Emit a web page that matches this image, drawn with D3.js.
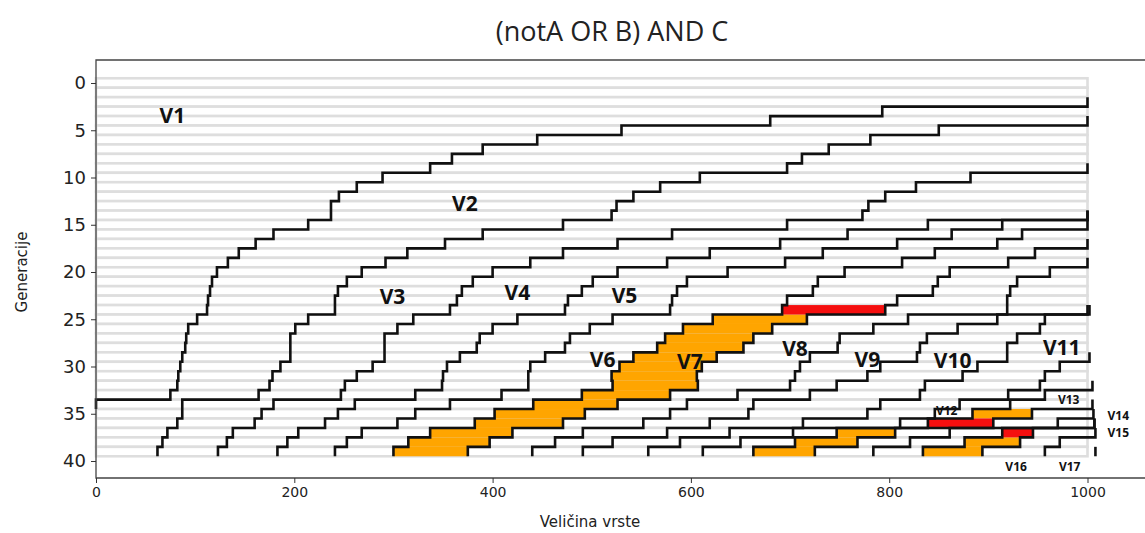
<!DOCTYPE html>
<html>
<head>
<meta charset="utf-8">
<script src="https://cdn.jsdelivr.net/npm/d3@7/dist/d3.min.js"></script>
<style>
  body { margin: 0; background: #fff; }
  .tick text { font-family: "DejaVu Sans", sans-serif; fill: #222; }
  .tick line { stroke: #333; }
</style>
</head>
<body>
<script>
// *************************************************** //
// chart data

// generation in which each boundary line first appears (at the right edge)
var birthGen = [2, 4, 9, 14, 14, 15, 17, 19, 24, 24, 29, 32, 34, 35, 36, 36, 37, 39];

// boundary position (species size axis) for every generation from birth to the end
var b1 = [1000, 793, 680, 530, 445, 390, 359, 337, 289, 263, 245, 237, 237, 214, 179, 161, 144, 133, 122, 117, 115, 113, 112, 102, 93, 91, 90, 87, 85, 83, 82, 75, 0];
var b2 = [1000, 850, 781, 739, 712, 697, 609, 569, 542, 525, 520, 471, 390, 352, 314, 292, 268, 253, 244, 241, 241, 214, 201, 196, 196, 196, 186, 178, 175, 164, 87, 87, 82, 72, 67, 62];
var b3 = [1000, 882, 827, 796, 779, 773, 697, 581, 526, 471, 438, 400, 380, 369, 364, 357, 320, 304, 291, 291, 291, 279, 263, 251, 247, 179, 167, 160, 138, 132, 123];
var b4 = [1000, 839, 758, 690, 619, 576, 526, 501, 490, 476, 473, 425, 400, 387, 384, 367, 354, 350, 349, 322, 261, 244, 231, 204, 193, 183];
var b5 = [1000, 914, 863, 808, 733, 695, 637, 596, 586, 581, 579, 521, 498, 478, 473, 453, 438, 436, 436, 409, 357, 322, 304, 268, 253, 241];
var b6 = [1000, 934, 909, 846, 813, 755, 728, 723, 697, 692, 622, 592, 574, 566, 542, 528, 520, 521, 490, 441, 402, 382, 337, 315, 300];
var b7 = [1000, 947, 920, 861, 849, 844, 808, 796, 717, 682, 663, 653, 626, 611, 606, 607, 579, 526, 493, 471, 420, 397, 375];
var b8 = [1000, 962, 929, 922, 919, 919, 819, 784, 750, 748, 720, 710, 705, 700, 647, 596, 579, 552, 491, 463, 440];
var b9 = [1000, 909, 869, 838, 831, 828, 791, 778, 747, 720, 663, 658, 619, 576, 521, 491];
var b10 = [1002, 957, 952, 929, 919, 919, 889, 874, 836, 831, 791, 778, 713, 639, 589, 557];
var b11 = [1002, 972, 957, 952, 920, 871, 846, 811, 703, 650, 612];
var b12 = [1005, 957, 922, 884, 839, 747, 705, 663];
var b13 = [1005, 944, 905, 806, 768, 725];
var b14 = [1006, 970, 861, 821, 784];
var b15 = [1007, 914, 876, 834];
var b16 = [1007, 945, 932, 894];
var b17 = [1008, 972, 957];
var b18 = [1008];

var boundaries = [b1, b2, b3, b4, b5, b6, b7, b8, b9, b10, b11, b12, b13, b14, b15, b16, b17, b18];

// highlighted cells: [generation, index of the left boundary line]
var orangeCells = [
  [25, 5], [26, 5], [27, 5], [28, 5], [29, 5], [30, 5], [31, 5], [32, 5],
  [33, 5], [34, 5], [35, 5], [36, 5], [37, 5], [38, 5], [39, 5],
  [35, 11], [37, 11], [38, 11], [39, 11],
  [38, 14], [39, 14]
];
var redCells = [[24, 5], [36, 11], [37, 14]];

// species labels
var labelText = ["V1", "V2", "V3", "V4", "V5", "V6", "V7", "V8", "V9", "V10", "V11", "V12", "V13", "V14", "V15", "V16", "V17"];
var labelX = [77, 372, 299, 425, 533, 511, 599, 705, 778, 864, 974, 858, 981, 1031, 1031, 928, 982];
var labelGen = [3.4, 12.7, 22.5, 22.1, 22.4, 29.2, 29.4, 28.0, 29.2, 29.3, 27.9, 34.7, 33.5, 35.2, 37.0, 40.6, 40.6];
var labelBig = [1, 1, 1, 1, 1, 1, 1, 1, 1, 1, 1, 0, 0, 0, 0, 0, 0];

// tick labels
var xTicks = [0, 200, 400, 600, 800, 1000];
var yTicks = [0, 5, 10, 15, 20, 25, 30, 35, 40];
var generations = d3.range(0, 40);

// *************************************************** //
// SVG dimension variables
var w = 1145, h = 533;
var frameTop = 60, frameBottom = 478, frameLeft = 96, frameRight = 1150;

window.onload = function(){
  // main svg container
  var container = d3.select("body")
    .append("svg")
    .attr("width", w)
    .attr("height", h)
    .style("background-color", "#fff");

  // scales
  var x = d3.scaleLinear()
    .domain([0, 1000])
    .range([96, 1087.5]);

  var y = d3.scaleLinear()
    .domain([0, 40])
    .range([83, 461]);

  // look up where line i sits in generation g
  function xAt(i, g){
    return boundaries[i][g - birthGen[i]];
  }

  // light grey generation rows
  container.selectAll(".row")
    .data(generations)
    .enter()
    .append("rect")
    .attr("class", "row")
    .attr("x", x(0))
    .attr("y", function(g){ return y(g - 0.5); })
    .attr("width", x(1000) - x(0))
    .attr("height", function(g){ return y(g + 0.5) - y(g - 0.5); })
    .style("fill", "#fff")
    .style("stroke", "#dedede")
    .style("stroke-width", 2.6);

  // coloured cells
  var cells = orangeCells.map(function(c){ return {g: c[0], i: c[1], color: "#ffa500"}; })
    .concat(redCells.map(function(c){ return {g: c[0], i: c[1], color: "#f50f0f"}; }));

  container.selectAll(".cell")
    .data(cells)
    .enter()
    .append("rect")
    .attr("class", "cell")
    .attr("x", function(d){ return x(xAt(d.i, d.g)); })
    .attr("width", function(d){ return x(xAt(d.i + 1, d.g)) - x(xAt(d.i, d.g)); })
    .attr("y", function(d){ return y(d.g - 0.5); })
    .attr("height", function(d){ return y(d.g + 0.5) - y(d.g - 0.5); })
    .style("fill", function(d){ return d.color; });

  // step line generator: vertical inside each generation, horizontal between them
  var stepLine = d3.line()
    .x(function(d){ return x(d[0]); })
    .y(function(d){ return y(d[1]); });

  container.selectAll(".boundary")
    .data(boundaries)
    .enter()
    .append("path")
    .attr("class", "boundary")
    .attr("d", function(xs, i){
      var pts = [];
      xs.forEach(function(v, k){
        var g = birthGen[i] + k;
        pts.push([v, g - 0.5]);
        pts.push([v, g + 0.5]);
      });
      return stepLine(pts);
    })
    .style("fill", "none")
    .style("stroke", "#111")
    .style("stroke-width", 2.6)
    .style("stroke-linejoin", "miter");

  // frame
  container.append("path")
    .attr("d", "M" + frameRight + "," + frameTop + "H" + frameLeft + "V" + frameBottom + "H" + frameRight)
    .style("fill", "none")
    .style("stroke", "#444")
    .style("stroke-width", 1.3);

  // x axis
  var xAxis = d3.axisBottom(x)
    .tickValues(xTicks)
    .tickFormat(d3.format("d"))
    .tickSize(5)
    .tickPadding(4);

  container.append("g")
    .attr("class", "axis")
    .attr("transform", "translate(0," + frameBottom + ")")
    .call(xAxis)
    .call(function(g){ g.select(".domain").remove(); })
    .selectAll("text")
    .style("font-size", "14px");

  // y axis
  var yAxis = d3.axisLeft(y)
    .tickValues(yTicks)
    .tickSize(5)
    .tickPadding(5);

  container.append("g")
    .attr("class", "axis")
    .attr("transform", "translate(" + frameLeft + ",0)")
    .call(yAxis)
    .call(function(g){ g.select(".domain").remove(); })
    .selectAll("text")
    .style("font-size", "18px");

  // species labels
  container.selectAll(".vlabel")
    .data(labelText)
    .enter()
    .append("text")
    .attr("class", "vlabel")
    .attr("x", function(d, i){ return x(labelX[i]); })
    .attr("y", function(d, i){ return y(labelGen[i]); })
    .attr("text-anchor", "middle")
    .attr("dominant-baseline", "central")
    .style("font-family", "'Open Sans', sans-serif")
    .style("font-weight", 700)
    .style("font-size", function(d, i){ return labelBig[i] ? "21px" : "12px"; })
    .style("fill", "#111")
    .text(function(d){ return d; });

  // title
  container.append("text")
    .attr("x", 612)
    .attr("y", 41)
    .attr("text-anchor", "middle")
    .style("font-family", "'Open Sans', sans-serif")
    .style("font-size", "27px")
    .style("fill", "#222")
    .text("(notA OR B) AND C");

  // axis titles
  container.append("text")
    .attr("x", 590)
    .attr("y", 527)
    .attr("text-anchor", "middle")
    .style("font-family", "'DejaVu Sans', sans-serif")
    .style("font-size", "15px")
    .style("fill", "#222")
    .text("Veličina vrste");

  container.append("text")
    .attr("transform", "translate(27,272) rotate(-90)")
    .attr("text-anchor", "middle")
    .style("font-family", "'DejaVu Sans', sans-serif")
    .style("font-size", "15px")
    .style("fill", "#222")
    .text("Generacije");
};
</script>
</body>
</html>
